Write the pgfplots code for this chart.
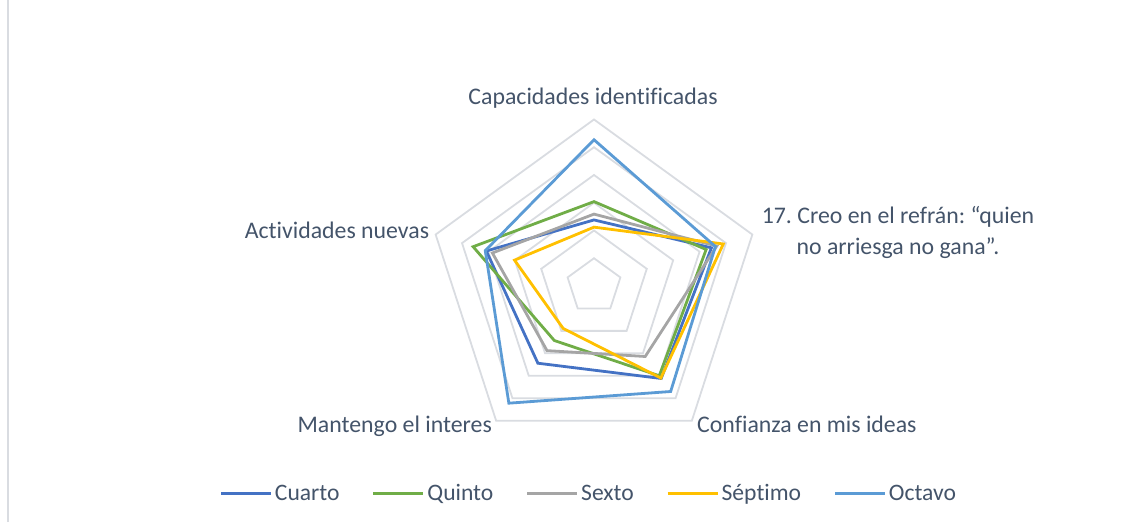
\documentclass[border=0pt]{standalone}
\usepackage{pgfplots}
\pgfplotsset{compat=1.18}
\usepackage{fontspec}
\setmainfont{Carlito}[Ligatures=NoCommon]
\frenchspacing

\definecolor{cuarto}{HTML}{4472C4}
\definecolor{quinto}{HTML}{70AD47}
\definecolor{sexto}{HTML}{A5A5A5}
\definecolor{septimo}{HTML}{FFC000}
\definecolor{octavo}{HTML}{5B9BD5}
\definecolor{gridc}{HTML}{D9DCE1}
\definecolor{txt}{HTML}{44546A}

\begin{document}
\begin{tikzpicture}
\begin{axis}[
  x=27.75pt, y=27.75pt, scale only axis,
  xmin=-21.405, xmax=19.892, ymin=-8.505, ymax=10.306,
  hide axis, clip=false,
  data cs=polar,
  every axis plot/.append style={line width=2.8pt, line join=miter, mark=none},
  legend columns=5,
  legend style={draw=none, fill=none, at={(rel axis cs:0.514,0.055)}, anchor=center,
    font=\fontsize{23.6}{28}\selectfont\color{txt},
    nodes={inner sep=2.5pt},
    /tikz/every even column/.append style={column sep=30pt}},
  legend image code/.code={\draw[#1, line width=2.8pt] (0pt,0pt) -- (50pt,0pt);},
]
% pentagon grid (rings 1..6)
\pgfplotsinvokeforeach{1,2,3,4,5,6}{
  \addplot[gridc, line width=1.8pt, forget plot] coordinates {(90,#1) (18,#1) (-54,#1) (-126,#1) (162,#1)} -- cycle;
}
% series: Capacidades, 17. Creo..., Confianza, Mantengo, Actividades
\addplot[cuarto] coordinates {(90,2.38) (18,4.45) (-54,4.12) (-126,3.44) (162,4.08)} -- cycle;
\addlegendentry{Cuarto}
\addplot[quinto] coordinates {(90,3.04) (18,4.25) (-54,4.00) (-126,2.43) (162,4.58)} -- cycle;
\addlegendentry{Quinto}
\addplot[sexto] coordinates {(90,2.59) (18,4.65) (-54,3.14) (-126,2.88) (162,3.85)} -- cycle;
\addlegendentry{Sexto}
\addplot[septimo] coordinates {(90,2.12) (18,4.90) (-54,4.10) (-126,1.89) (162,3.01)} -- cycle;
\addlegendentry{Séptimo}
\addplot[octavo] coordinates {(90,5.27) (18,4.60) (-54,4.70) (-126,5.22) (162,4.12)} -- cycle;
\addlegendentry{Octavo}

\begin{scope}[every node/.style={font=\fontsize{23.8}{28}\selectfont, text=txt, inner sep=0pt}]
\node[anchor=base] at (rel axis cs:0.5175,0.7989) {Capacidades identificadas};
\node[anchor=base] at (rel axis cs:0.7836,0.5722) {17. Creo en el refrán: “quien};
\node[anchor=base] at (rel axis cs:0.7836,0.5115) {no arriesga no gana”.};
\node[anchor=base east] at (rel axis cs:0.3746,0.5435) {Actividades nuevas};
\node[anchor=base east] at (rel axis cs:0.4293,0.1705) {Mantengo el interes};
\node[anchor=base west] at (rel axis cs:0.6082,0.1705) {Confianza en mis ideas};
\end{scope}
\draw[gridc, line width=1.2pt] (rel axis cs:0.007,0) -- (rel axis cs:0.007,1);
\coordinate (ll) at (rel axis cs:0,0);
\coordinate (ur) at (rel axis cs:1,1);
\end{axis}
\pgfresetboundingbox
\path (ll) rectangle (ur);
\end{tikzpicture}
\end{document}
